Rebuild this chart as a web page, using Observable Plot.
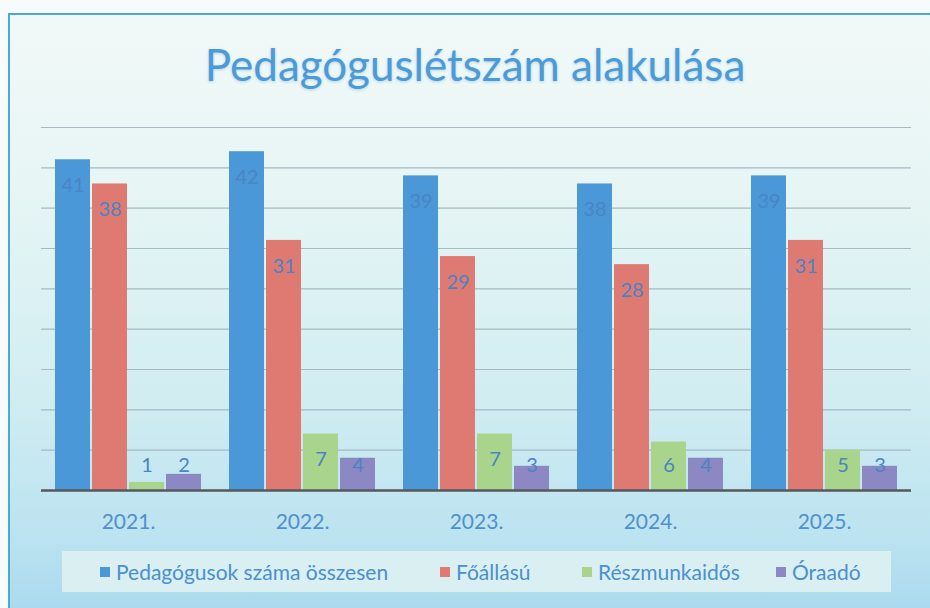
<!DOCTYPE html>
<html>
<head>
<meta charset="utf-8">
<script src="https://cdn.jsdelivr.net/npm/d3@7"></script>
<script src="https://cdn.jsdelivr.net/npm/@observablehq/plot@0.6"></script>
<style>
  html, body { margin: 0; padding: 0; }
  body { width: 930px; height: 608px; overflow: hidden; position: relative; background: #f7fbfb; font-family: Lato, "Open Sans", sans-serif; }
  #card { position: absolute; left: 8px; top: 13px; width: 940px; height: 610px;
    border-left: 2.5px solid #48aad6; border-top: 2.5px solid #48aad6;
    background: linear-gradient(to bottom, #f1f9f8 0%, #e6f5f4 30%, #d3eef2 60%, #bce3f0 85%, #a7d8ee 100%); }
  #title { position: absolute; left: 0; top: 38px; width: 950px; text-align: center;
    font-size: 44px; color: #4b9bd9; text-shadow: 0 1px 3px rgba(60,120,180,0.3); }
  #chart { position: absolute; left: 0; top: 0; }
  #legend { position: absolute; left: 62px; top: 551px; width: 829px; height: 41px; background: #d9eff2;
    font-size: 21px; color: #4b8fcf; }
  .item { position: absolute; top: 0; height: 41px; display: flex; align-items: center; gap: 6px; white-space: nowrap; }
  .sw { width: 10px; height: 10px; display: inline-block; }
</style>
</head>
<body>
<div id="card"></div>
<div id="title">Pedagóguslétszám alakulása</div>
<div id="chart"></div>
<div id="legend"></div>
<script>
const years = ["2021.", "2022.", "2023.", "2024.", "2025."];
const series = ["Pedagógusok száma összesen", "Főállású", "Részmunkaidős", "Óraadó"];
const totalValues = [41, 42, 39, 38, 39];
const fullTimeValues = [38, 31, 29, 28, 31];
const partTimeValues = [1, 7, 7, 6, 5];
const hourlyValues = [2, 4, 3, 4, 3];
const colors = ["#4a98d8", "#df7a72", "#a8d48b", "#8c88c3"];
const yGridValues = [5, 10, 15, 20, 25, 30, 35, 40, 45];

const seriesValues = [totalValues, fullTimeValues, partTimeValues, hourlyValues];
const rows = years.flatMap((year, i) =>
  series.map((s, j) => ({ year, series: s, value: seriesValues[j][i] }))
);

const chart = Plot.plot({
  width: 930,
  height: 545,
  marginTop: 127,
  marginBottom: 55,
  marginLeft: 40,
  marginRight: 18,
  style: { background: "transparent", fontFamily: "Lato, sans-serif", fontSize: "21px", color: "#5090cc", overflow: "visible" },
  facet: { data: rows, x: "year" },
  fx: { domain: years, padding: 0, axis: "bottom", label: null, tickSize: 0, tickPadding: 24 },
  x: { domain: series, axis: null, paddingInner: 0.05, paddingOuter: 0.35 },
  y: { domain: [0, 45], axis: null },
  color: { domain: series, range: colors },
  marks: [
    Plot.ruleY(yGridValues, { stroke: "#a6b9c4", strokeWidth: 1.2 }),
    Plot.barY(rows, { x: "series", y: "value", fill: "series" }),
    Plot.ruleY([0], { stroke: "#56595c", strokeWidth: 2.5 }),
    Plot.text(rows, { x: "series", y: d => Math.max(d.value, 6.3), dy: 26, text: "value", fill: "#4a84c4", fontSize: 20 })
  ]
});
document.getElementById("chart").appendChild(chart);

// legend item left edges inside the legend box (box starts at x=62)
const legendOffsets = [38, 378, 520, 714];
const legend = document.getElementById("legend");
series.forEach((s, i) => {
  const item = document.createElement("div");
  item.className = "item";
  item.style.left = legendOffsets[i] + "px";
  const sw = document.createElement("span");
  sw.className = "sw";
  sw.style.background = colors[i];
  const label = document.createElement("span");
  label.textContent = s;
  item.appendChild(sw);
  item.appendChild(label);
  legend.appendChild(item);
});
</script>
</body>
</html>
